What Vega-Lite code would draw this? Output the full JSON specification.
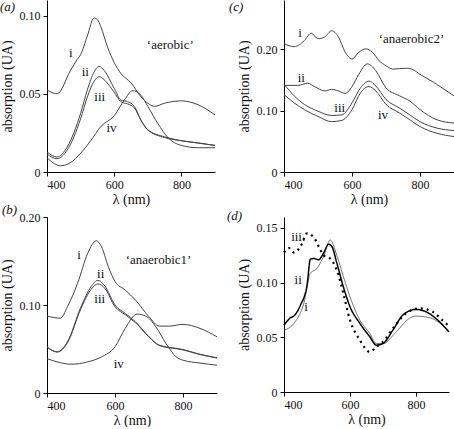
{
  "$schema": "https://vega.github.io/schema/vega-lite/v6.json",
  "padding": 0,
  "background": "white",
  "config": {
    "view": {"stroke": null},
    "font": "'Liberation Serif', 'Times New Roman', Times, serif",
    "axis": {"grid": false, "domainColor": "black", "tickColor": "black", "labelColor": "#111", "titleColor": "#111", "labelFont": "'Liberation Serif', 'Times New Roman', Times, serif", "titleFont": "'Liberation Serif', 'Times New Roman', Times, serif", "labelFontSize": 12, "titleFontSize": 14, "titleFontWeight": "normal", "tickSize": 4, "domainWidth": 1, "labelPadding": 3},
    "axisX": {"titlePadding": 2},
    "axisY": {"titlePadding": 5},
    "title": {"font": "'Liberation Serif', 'Times New Roman', Times, serif", "fontSize": 13, "fontWeight": "normal", "fontStyle": "italic", "color": "#111", "anchor": "start", "frame": "group"},
    "text": {"font": "'Liberation Serif', 'Times New Roman', Times, serif", "fontSize": 13, "color": "#111"}
  },
  "datasets": {
    "a": [
      {"x":400,"y":0.0525,"s":"i"},{"x":430,"y":0.050,"s":"i"},{"x":470,"y":0.065,"s":"i"},{"x":490,"y":0.072,"s":"i"},{"x":500,"y":0.075,"s":"i"},{"x":520,"y":0.087,"s":"i"},{"x":540,"y":0.0985,"s":"i"},{"x":550,"y":0.0975,"s":"i"},{"x":560,"y":0.093,"s":"i"},{"x":580,"y":0.080,"s":"i"},{"x":600,"y":0.070,"s":"i"},{"x":620,"y":0.063,"s":"i"},{"x":650,"y":0.057,"s":"i"},{"x":680,"y":0.048,"s":"i"},{"x":700,"y":0.044,"s":"i"},{"x":720,"y":0.042,"s":"i"},{"x":750,"y":0.044,"s":"i"},{"x":800,"y":0.0455,"s":"i"},{"x":850,"y":0.043,"s":"i"},{"x":900,"y":0.0365,"s":"i"},
      {"x":400,"y":0.0128,"s":"ii"},{"x":430,"y":0.0096,"s":"ii"},{"x":460,"y":0.016,"s":"ii"},{"x":500,"y":0.0375,"s":"ii"},{"x":520,"y":0.0525,"s":"ii"},{"x":540,"y":0.064,"s":"ii"},{"x":555,"y":0.0675,"s":"ii"},{"x":570,"y":0.065,"s":"ii"},{"x":600,"y":0.0535,"s":"ii"},{"x":620,"y":0.046,"s":"ii"},{"x":640,"y":0.045,"s":"ii"},{"x":660,"y":0.042,"s":"ii"},{"x":680,"y":0.033,"s":"ii"},{"x":700,"y":0.027,"s":"ii"},{"x":750,"y":0.0225,"s":"ii"},{"x":800,"y":0.020,"s":"ii"},{"x":850,"y":0.0186,"s":"ii"},{"x":900,"y":0.017,"s":"ii"},
      {"x":400,"y":0.0115,"s":"iii"},{"x":430,"y":0.0085,"s":"iii"},{"x":460,"y":0.014,"s":"iii"},{"x":500,"y":0.034,"s":"iii"},{"x":520,"y":0.048,"s":"iii"},{"x":540,"y":0.058,"s":"iii"},{"x":555,"y":0.061,"s":"iii"},{"x":570,"y":0.059,"s":"iii"},{"x":600,"y":0.051,"s":"iii"},{"x":620,"y":0.045,"s":"iii"},{"x":640,"y":0.0435,"s":"iii"},{"x":660,"y":0.041,"s":"iii"},{"x":680,"y":0.033,"s":"iii"},{"x":700,"y":0.027,"s":"iii"},{"x":750,"y":0.022,"s":"iii"},{"x":800,"y":0.020,"s":"iii"},{"x":850,"y":0.0185,"s":"iii"},{"x":900,"y":0.017,"s":"iii"},
      {"x":400,"y":0.009,"s":"iv"},{"x":440,"y":0.004,"s":"iv"},{"x":470,"y":0.006,"s":"iv"},{"x":500,"y":0.012,"s":"iv"},{"x":530,"y":0.020,"s":"iv"},{"x":560,"y":0.029,"s":"iv"},{"x":600,"y":0.036,"s":"iv"},{"x":630,"y":0.046,"s":"iv"},{"x":655,"y":0.052,"s":"iv"},{"x":680,"y":0.049,"s":"iv"},{"x":700,"y":0.042,"s":"iv"},{"x":730,"y":0.031,"s":"iv"},{"x":760,"y":0.022,"s":"iv"},{"x":800,"y":0.017,"s":"iv"},{"x":850,"y":0.0155,"s":"iv"},{"x":900,"y":0.0155,"s":"iv"}
    ],
    "aLab": [
      {"x":471,"y":0.076,"t":"i"},{"x":514,"y":0.064,"t":"ii"},{"x":557,"y":0.048,"t":"iii"},{"x":592,"y":0.028,"t":"iv"},{"x":767,"y":0.081,"t":"‘aerobic’"}
    ],
    "c": [
      {"x":400,"y":0.209,"s":"i"},{"x":430,"y":0.204,"s":"i"},{"x":460,"y":0.214,"s":"i"},{"x":480,"y":0.226,"s":"i"},{"x":500,"y":0.217,"s":"i"},{"x":520,"y":0.220,"s":"i"},{"x":540,"y":0.230,"s":"i"},{"x":560,"y":0.220,"s":"i"},{"x":580,"y":0.195,"s":"i"},{"x":600,"y":0.184,"s":"i"},{"x":620,"y":0.195,"s":"i"},{"x":640,"y":0.2005,"s":"i"},{"x":660,"y":0.195,"s":"i"},{"x":680,"y":0.181,"s":"i"},{"x":700,"y":0.173,"s":"i"},{"x":720,"y":0.1675,"s":"i"},{"x":760,"y":0.169,"s":"i"},{"x":780,"y":0.1665,"s":"i"},{"x":800,"y":0.159,"s":"i"},{"x":840,"y":0.146,"s":"i"},{"x":870,"y":0.135,"s":"i"},{"x":900,"y":0.124,"s":"i"},
      {"x":400,"y":0.141,"s":"ii"},{"x":440,"y":0.141,"s":"ii"},{"x":470,"y":0.1445,"s":"ii"},{"x":490,"y":0.139,"s":"ii"},{"x":520,"y":0.132,"s":"ii"},{"x":540,"y":0.1345,"s":"ii"},{"x":560,"y":0.132,"s":"ii"},{"x":580,"y":0.128,"s":"ii"},{"x":600,"y":0.139,"s":"ii"},{"x":620,"y":0.159,"s":"ii"},{"x":645,"y":0.176,"s":"ii"},{"x":670,"y":0.165,"s":"ii"},{"x":700,"y":0.137,"s":"ii"},{"x":740,"y":0.124,"s":"ii"},{"x":770,"y":0.1155,"s":"ii"},{"x":800,"y":0.1015,"s":"ii"},{"x":850,"y":0.085,"s":"ii"},{"x":900,"y":0.0797,"s":"ii"},
      {"x":400,"y":0.143,"s":"iii"},{"x":430,"y":0.124,"s":"iii"},{"x":460,"y":0.110,"s":"iii"},{"x":500,"y":0.099,"s":"iii"},{"x":540,"y":0.092,"s":"iii"},{"x":570,"y":0.093,"s":"iii"},{"x":600,"y":0.1125,"s":"iii"},{"x":625,"y":0.137,"s":"iii"},{"x":650,"y":0.148,"s":"iii"},{"x":670,"y":0.140,"s":"iii"},{"x":700,"y":0.118,"s":"iii"},{"x":740,"y":0.104,"s":"iii"},{"x":770,"y":0.093,"s":"iii"},{"x":800,"y":0.082,"s":"iii"},{"x":850,"y":0.0715,"s":"iii"},{"x":900,"y":0.0675,"s":"iii"},
      {"x":400,"y":0.126,"s":"iv"},{"x":430,"y":0.1125,"s":"iv"},{"x":460,"y":0.1015,"s":"iv"},{"x":500,"y":0.0905,"s":"iv"},{"x":540,"y":0.082,"s":"iv"},{"x":570,"y":0.084,"s":"iv"},{"x":600,"y":0.1015,"s":"iv"},{"x":625,"y":0.129,"s":"iv"},{"x":650,"y":0.139,"s":"iv"},{"x":670,"y":0.132,"s":"iv"},{"x":700,"y":0.110,"s":"iv"},{"x":740,"y":0.096,"s":"iv"},{"x":770,"y":0.085,"s":"iv"},{"x":800,"y":0.074,"s":"iv"},{"x":850,"y":0.063,"s":"iv"},{"x":900,"y":0.0577,"s":"iv"}
    ],
    "cLab": [
      {"x":447,"y":0.226,"t":"i"},{"x":451,"y":0.153,"t":"ii"},{"x":564,"y":0.105,"t":"iii"},{"x":691,"y":0.092,"t":"iv"},{"x":775,"y":0.217,"t":"‘anaerobic2’"}
    ],
    "b": [
      {"x":400,"y":0.0875,"s":"i"},{"x":440,"y":0.085,"s":"i"},{"x":460,"y":0.098,"s":"i"},{"x":490,"y":0.1247,"s":"i"},{"x":520,"y":0.159,"s":"i"},{"x":545,"y":0.173,"s":"i"},{"x":560,"y":0.1665,"s":"i"},{"x":580,"y":0.144,"s":"i"},{"x":600,"y":0.1266,"s":"i"},{"x":630,"y":0.117,"s":"i"},{"x":660,"y":0.1057,"s":"i"},{"x":700,"y":0.0867,"s":"i"},{"x":730,"y":0.076,"s":"i"},{"x":760,"y":0.076,"s":"i"},{"x":800,"y":0.078,"s":"i"},{"x":850,"y":0.0734,"s":"i"},{"x":900,"y":0.0639,"s":"i"},
      {"x":400,"y":0.0525,"s":"ii"},{"x":430,"y":0.0468,"s":"ii"},{"x":460,"y":0.058,"s":"ii"},{"x":500,"y":0.098,"s":"ii"},{"x":530,"y":0.121,"s":"ii"},{"x":550,"y":0.128,"s":"ii"},{"x":570,"y":0.1217,"s":"ii"},{"x":600,"y":0.100,"s":"ii"},{"x":630,"y":0.0905,"s":"ii"},{"x":660,"y":0.081,"s":"ii"},{"x":700,"y":0.064,"s":"ii"},{"x":730,"y":0.0544,"s":"ii"},{"x":800,"y":0.0494,"s":"ii"},{"x":850,"y":0.044,"s":"ii"},{"x":900,"y":0.040,"s":"ii"},
      {"x":400,"y":0.0522,"s":"iii"},{"x":430,"y":0.0465,"s":"iii"},{"x":460,"y":0.057,"s":"iii"},{"x":500,"y":0.096,"s":"iii"},{"x":530,"y":0.118,"s":"iii"},{"x":550,"y":0.124,"s":"iii"},{"x":570,"y":0.119,"s":"iii"},{"x":600,"y":0.098,"s":"iii"},{"x":630,"y":0.089,"s":"iii"},{"x":660,"y":0.080,"s":"iii"},{"x":700,"y":0.0635,"s":"iii"},{"x":730,"y":0.054,"s":"iii"},{"x":800,"y":0.049,"s":"iii"},{"x":850,"y":0.0437,"s":"iii"},{"x":900,"y":0.0398,"s":"iii"},
      {"x":400,"y":0.039,"s":"iv"},{"x":430,"y":0.0354,"s":"iv"},{"x":470,"y":0.0327,"s":"iv"},{"x":520,"y":0.0354,"s":"iv"},{"x":560,"y":0.041,"s":"iv"},{"x":600,"y":0.0525,"s":"iv"},{"x":630,"y":0.0734,"s":"iv"},{"x":665,"y":0.0897,"s":"iv"},{"x":690,"y":0.0875,"s":"iv"},{"x":720,"y":0.0753,"s":"iv"},{"x":750,"y":0.0563,"s":"iv"},{"x":780,"y":0.041,"s":"iv"},{"x":800,"y":0.0373,"s":"iv"},{"x":850,"y":0.034,"s":"iv"},{"x":900,"y":0.0316,"s":"iv"}
    ],
    "bLab": [
      {"x":494,"y":0.157,"t":"i"},{"x":558,"y":0.135,"t":"ii"},{"x":555,"y":0.1065,"t":"iii"},{"x":611,"y":0.033,"t":"iv"},{"x":728,"y":0.151,"t":"‘anaerobic1’"}
    ],
    "d": [
      {"x":400,"y":0.0566,"s":"i"},{"x":430,"y":0.0627,"s":"i"},{"x":460,"y":0.081,"s":"i"},{"x":480,"y":0.1086,"s":"i"},{"x":500,"y":0.113,"s":"i"},{"x":520,"y":0.124,"s":"i"},{"x":540,"y":0.139,"s":"i"},{"x":560,"y":0.125,"s":"i"},{"x":580,"y":0.1055,"s":"i"},{"x":600,"y":0.087,"s":"i"},{"x":630,"y":0.0657,"s":"i"},{"x":660,"y":0.0535,"s":"i"},{"x":680,"y":0.0443,"s":"i"},{"x":700,"y":0.0443,"s":"i"},{"x":740,"y":0.055,"s":"i"},{"x":780,"y":0.0673,"s":"i"},{"x":800,"y":0.0694,"s":"i"},{"x":840,"y":0.068,"s":"i"},{"x":880,"y":0.061,"s":"i"},{"x":900,"y":0.055,"s":"i"},
      {"x":400,"y":0.061,"s":"ii"},{"x":420,"y":0.068,"s":"ii"},{"x":430,"y":0.0695,"s":"ii"},{"x":450,"y":0.0795,"s":"ii"},{"x":470,"y":0.098,"s":"ii"},{"x":480,"y":0.1215,"s":"ii"},{"x":490,"y":0.122,"s":"ii"},{"x":505,"y":0.121,"s":"ii"},{"x":520,"y":0.127,"s":"ii"},{"x":535,"y":0.135,"s":"ii"},{"x":545,"y":0.133,"s":"ii"},{"x":560,"y":0.118,"s":"ii"},{"x":580,"y":0.096,"s":"ii"},{"x":600,"y":0.078,"s":"ii"},{"x":630,"y":0.0627,"s":"ii"},{"x":660,"y":0.0505,"s":"ii"},{"x":680,"y":0.0428,"s":"ii"},{"x":700,"y":0.0443,"s":"ii"},{"x":730,"y":0.0566,"s":"ii"},{"x":760,"y":0.0703,"s":"ii"},{"x":800,"y":0.0755,"s":"ii"},{"x":830,"y":0.0734,"s":"ii"},{"x":860,"y":0.0673,"s":"ii"},{"x":900,"y":0.055,"s":"ii"},
      {"x":400,"y":0.1275,"s":"iii"},{"x":415,"y":0.1315,"s":"iii"},{"x":430,"y":0.1275,"s":"iii"},{"x":450,"y":0.133,"s":"iii"},{"x":470,"y":0.145,"s":"iii"},{"x":490,"y":0.1415,"s":"iii"},{"x":510,"y":0.130,"s":"iii"},{"x":520,"y":0.125,"s":"iii"},{"x":540,"y":0.122,"s":"iii"},{"x":560,"y":0.1115,"s":"iii"},{"x":580,"y":0.090,"s":"iii"},{"x":600,"y":0.0657,"s":"iii"},{"x":630,"y":0.0474,"s":"iii"},{"x":660,"y":0.0367,"s":"iii"},{"x":680,"y":0.0413,"s":"iii"},{"x":700,"y":0.0459,"s":"iii"},{"x":730,"y":0.058,"s":"iii"},{"x":770,"y":0.072,"s":"iii"},{"x":810,"y":0.0765,"s":"iii"},{"x":850,"y":0.0734,"s":"iii"},{"x":880,"y":0.0657,"s":"iii"},{"x":900,"y":0.0602,"s":"iii"}
    ],
    "dLab": [
      {"x":443,"y":0.142,"t":"iii."},{"x":443,"y":0.102,"t":"ii"},{"x":467,"y":0.078,"t":"i"}
    ]
  },
  "columns": 2,
  "spacing": {"row": 45, "column": 67},
  "bounds": "flush",
  "concat": [
        {
          "width": 168, "height": 172,
          "title": {"text": "(a)", "dx": -47, "dy": 14, "offset": 0},
          "layer": [
            {"data": {"name": "a"}, "mark": {"type": "line", "interpolate": "monotone", "color": "#444", "strokeWidth": 1},
             "encoding": {
               "x": {"field": "x", "type": "quantitative", "scale": {"domain": [400, 900], "nice": false}, "axis": {"values": [400, 600, 800], "title": "λ (nm)"}},
               "y": {"field": "y", "type": "quantitative", "scale": {"domain": [0, 0.11], "nice": false}, "axis": {"values": [0, 0.05, 0.1], "title": "absorption (UA)", "labelExpr": "datum.value == 0 ? '0' : format(datum.value, '.2f')"}},
               "detail": {"field": "s"}}},
            {"data": {"name": "aLab"}, "mark": {"type": "text"},
             "encoding": {"x": {"field": "x", "type": "quantitative"}, "y": {"field": "y", "type": "quantitative"}, "text": {"field": "t"}}}
          ]
        },
        {
          "width": 170, "height": 172,
          "title": {"text": "(c)", "dx": -55, "dy": 14, "offset": 0},
          "layer": [
            {"data": {"name": "c"}, "mark": {"type": "line", "interpolate": "monotone", "color": "#444", "strokeWidth": 1},
             "encoding": {
               "x": {"field": "x", "type": "quantitative", "scale": {"domain": [400, 900], "nice": false}, "axis": {"values": [400, 600, 800], "title": "λ (nm)"}},
               "y": {"field": "y", "type": "quantitative", "scale": {"domain": [0, 0.28], "nice": false}, "axis": {"values": [0, 0.1, 0.2], "title": "absorption (UA)", "labelExpr": "datum.value == 0 ? '0' : format(datum.value, '.2f')"}},
               "detail": {"field": "s"}}},
            {"data": {"name": "cLab"}, "mark": {"type": "text"},
             "encoding": {"x": {"field": "x", "type": "quantitative"}, "y": {"field": "y", "type": "quantitative"}, "text": {"field": "t"}}}
          ]
        },
        {
          "width": 170, "height": 176,
          "title": {"text": "(b)", "dx": -45, "dy": 6, "offset": 0},
          "layer": [
            {"data": {"name": "b"}, "mark": {"type": "line", "interpolate": "monotone", "color": "#444", "strokeWidth": 1},
             "encoding": {
               "x": {"field": "x", "type": "quantitative", "scale": {"domain": [400, 900], "nice": false}, "axis": {"values": [400, 600, 800], "title": "λ (nm)"}},
               "y": {"field": "y", "type": "quantitative", "scale": {"domain": [0, 0.2], "nice": false}, "axis": {"values": [0, 0.1, 0.2], "title": "absorption (UA)", "labelExpr": "datum.value == 0 ? '0' : format(datum.value, '.2f')"}},
               "detail": {"field": "s"}}},
            {"data": {"name": "bLab"}, "mark": {"type": "text"},
             "encoding": {"x": {"field": "x", "type": "quantitative"}, "y": {"field": "y", "type": "quantitative"}, "text": {"field": "t"}}}
          ]
        },
        {
          "width": 165, "height": 175,
          "title": {"text": "(d)", "dx": -57, "dy": 6, "offset": 0},
          "layer": [
            {"data": {"name": "d"}, "mark": {"type": "line", "interpolate": "monotone", "color": "black"},
             "encoding": {
               "x": {"field": "x", "type": "quantitative", "scale": {"domain": [400, 900], "nice": false}, "axis": {"values": [400, 600, 800], "title": "λ (nm)"}},
               "y": {"field": "y", "type": "quantitative", "scale": {"domain": [0, 0.16], "nice": false}, "axis": {"values": [0, 0.05, 0.1, 0.15], "title": "absorption (UA)", "labelExpr": "datum.value == 0 ? '0' : format(datum.value, '.2f')"}},
               "detail": {"field": "s"},
               "strokeWidth": {"field": "s", "type": "nominal", "scale": {"domain": ["i", "ii", "iii"], "range": [0.8, 2.2, 2]}, "legend": null},
               "strokeDash": {"field": "s", "type": "nominal", "scale": {"domain": ["i", "ii", "iii"], "range": [[1, 0], [1, 0], [2, 4]]}, "legend": null},
               "color": {"field": "s", "type": "nominal", "scale": {"domain": ["i", "ii", "iii"], "range": ["#444", "black", "black"]}, "legend": null}}},
            {"data": {"name": "dLab"}, "mark": {"type": "text"},
             "encoding": {"x": {"field": "x", "type": "quantitative"}, "y": {"field": "y", "type": "quantitative"}, "text": {"field": "t"}}}
          ]
        }
  ]
}
